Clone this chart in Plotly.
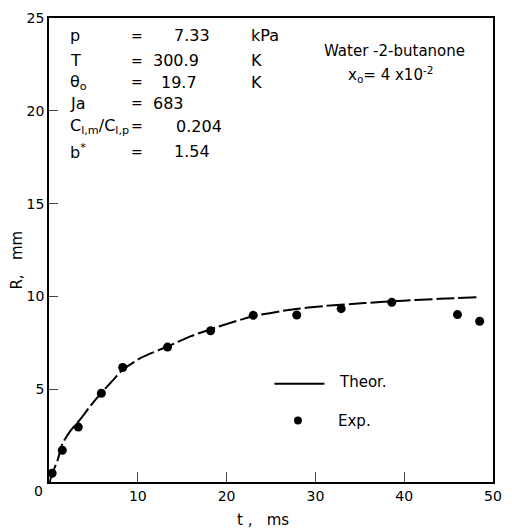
import plotly.graph_objects as go

# Experimental points
t_exp = [0.35, 1.5, 3.3, 5.9, 8.3, 13.35, 18.2, 23.0, 27.9, 32.9, 38.6, 46.0, 48.5]
R_exp = [0.47, 1.71, 2.96, 4.78, 6.17, 7.27, 8.15, 8.98, 9.0, 9.34, 9.68, 9.02, 8.66]

# Theoretical curve
t_th = [0.1, 0.24, 0.97, 1.52, 2.45, 3.56, 4.66, 5.9, 7.24, 8.3, 10.4, 13.35, 16.0, 18.6, 23.0, 27.4, 31.0, 35.5, 39.9, 44.0, 48.2]
R_th = [0.0, 0.28, 1.18, 2.07, 2.78, 3.4, 4.1, 4.8, 5.5, 6.05, 6.7, 7.3, 7.86, 8.3, 8.93, 9.3, 9.48, 9.64, 9.77, 9.87, 9.95]

x_ticks = [10, 20, 30, 40, 50]
y_ticks = [5, 10, 15, 20, 25]

FONT = "DejaVu Sans"
# plot area in window pixels
L, R, T, B = 49, 502, 14, 482
W, H = 512, 529

def px(x):
    return (x - L) / (R - L)

def py(y):
    return (B - y) / (B - T)

fig = go.Figure()
fig.add_trace(go.Scatter(x=t_th, y=R_th, mode="lines",
                         line=dict(color="black", width=2, dash="18px,4px", shape="spline", smoothing=0.6),
                         showlegend=False, hoverinfo="skip"))
fig.add_trace(go.Scatter(x=t_exp, y=R_exp, mode="markers", marker=dict(color="black", size=9),
                         showlegend=False))

ann = []
def text(x, y, s, size=16, xanchor="left"):
    ann.append(dict(x=px(x), y=py(y), xref="paper", yref="paper", text=s, showarrow=False,
                    xanchor=xanchor, yanchor="middle", font=dict(family=FONT, size=size, color="black")))

# parameter table
rows = [
    (32, "p", "=", "7.33", "kPa"),
    (57, "T", "=", "300.9", "K"),
    (79, "θ<sub>o</sub>", "=", "19.7", "K"),
    (100, "Ja", "=", "683", ""),
    (123, "C<sub>l,m</sub>/C<sub>l,p</sub>", "=", "0.204", ""),
    (149, "b<sup>*</sup>", "=", "1.54", ""),
]
val_right = {"7.33": 215, "300.9": 204, "19.7": 202, "683": 189, "0.204": 228, "1.54": 215}
for y, lab, eq, val, unit in rows:
    text(68, y, lab, 16)
    text(139, y, eq, 14, "center")
    text(val_right[val], y, val, 16, "right")
    if unit:
        text(253, y, unit, 16)

text(402, 47, "Water -2-butanone", 15, "center")
text(397, 71, "x<sub>o</sub>= 4 x10<sup>-2</sup>", 15, "center")

# legend (drawn manually)
text(343, 381, "Theor.", 15)
text(342, 420, "Exp.", 15)

# axis titles and corner zero
text(267, 520, "t ,   ms", 15, "center")
ann.append(dict(x=px(16), y=py(258), xref="paper", yref="paper", text="R,   mm", showarrow=False,
                textangle=-90, xanchor="center", yanchor="middle", font=dict(family=FONT, size=15, color="black")))
text(38, 491, "0", 14, "center")

shapes = [
    dict(type="line", xref="paper", yref="paper", x0=px(279), x1=px(330), y0=py(383), y1=py(383),
         line=dict(color="black", width=2)),
    dict(type="circle", xref="paper", yref="paper", x0=px(299), x1=px(307), y0=py(424), y1=py(416),
         fillcolor="black", line=dict(color="black", width=0)),
]

fig.update_layout(
    width=W, height=H,
    margin=dict(l=L, r=W - R, t=T, b=H - B, pad=0),
    paper_bgcolor="white", plot_bgcolor="white",
    annotations=ann, shapes=shapes,
    font=dict(family=FONT, size=14, color="black"),
)
fig.update_xaxes(range=[0, 50], tickvals=x_ticks, ticks="inside", ticklen=10, tickwidth=1.2,
                 showline=True, linewidth=1.5, linecolor="black", mirror=True, showgrid=False, zeroline=False,
                 tickfont=dict(family=FONT, size=14, color="black"))
fig.update_yaxes(range=[0, 25], tickvals=y_ticks, ticks="inside", ticklen=9, tickwidth=1.2,
                 showline=True, linewidth=1.5, linecolor="black", mirror=True, showgrid=False, zeroline=False,
                 tickfont=dict(family=FONT, size=14, color="black"))

fig.write_html("out.html", config={"displayModeBar": False},
               post_script="document.body.style.margin='0';document.body.style.overflow='hidden';")
